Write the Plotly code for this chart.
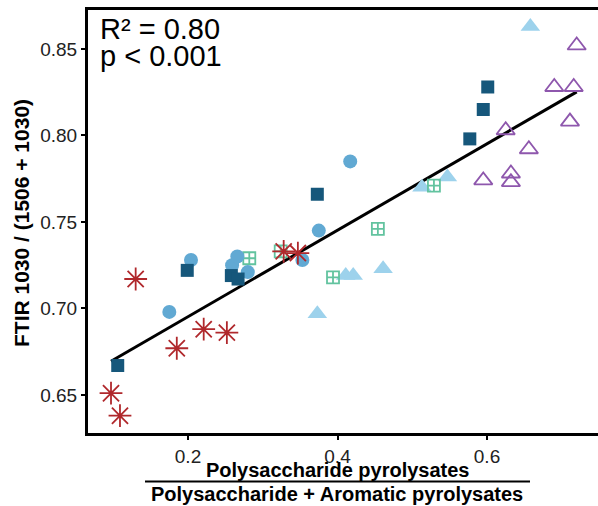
import numpy as np
import plotly.graph_objects as go

# ---- data ----
sq_x = [0.106, 0.199, 0.258, 0.267, 0.373, 0.577, 0.595, 0.601]
sq_y = [0.667, 0.722, 0.719, 0.717, 0.766, 0.798, 0.815, 0.828]

ci_x = [0.175, 0.204, 0.259, 0.266, 0.280, 0.353, 0.375, 0.417]
ci_y = [0.698, 0.728, 0.725, 0.730, 0.721, 0.728, 0.745, 0.785]

as_x = [0.130, 0.097, 0.109, 0.185, 0.221, 0.252, 0.328, 0.347]
as_y = [0.717, 0.651, 0.638, 0.677, 0.688, 0.686, 0.733, 0.732]

gr_x = [0.282, 0.324, 0.394, 0.454, 0.529]
gr_y = [0.729, 0.733, 0.718, 0.746, 0.771]

lt_x = [0.373, 0.411, 0.421, 0.461, 0.513, 0.547, 0.658]
lt_y = [0.697, 0.719, 0.719, 0.723, 0.770, 0.776, 0.863]

pu_x = [0.720, 0.690, 0.716, 0.711, 0.625, 0.656, 0.595, 0.632, 0.632]
pu_y = [0.852, 0.828, 0.828, 0.808, 0.803, 0.792, 0.774, 0.778, 0.773]

x_ticks = [0.2, 0.4, 0.6]
y_ticks = [0.65, 0.70, 0.75, 0.80, 0.85]
stats_lines = ["R² = 0.80", "p < 0.001"]
y_title = "FTIR 1030 / (1506 + 1030)"
x_title_num = "Polysaccharide pyrolysates"
x_title_den = "Polysaccharide + Aromatic pyrolysates"

# ---- regression line computed from the data ----
all_x = np.array(sq_x + ci_x + as_x + gr_x + lt_x + pu_x)
all_y = np.array(sq_y + ci_y + as_y + gr_y + lt_y + pu_y)
slope, intercept = np.polyfit(all_x, all_y, 1)
fit_x = np.array([all_x.min(), all_x.max()])
fit_y = slope * fit_x + intercept

FONT = "Liberation Sans, Arial, sans-serif"

fig = go.Figure()
fig.add_trace(go.Scatter(x=fit_x, y=fit_y, mode="lines",
                         line=dict(color="black", width=3), showlegend=False, hoverinfo="skip"))

def add(x, y, symbol, color, size, lw=0, fill=True):
    marker = dict(symbol=symbol, size=size, color=color)
    if not fill:
        marker["line"] = dict(color=color, width=lw)
    else:
        marker["line"] = dict(width=0)
    fig.add_trace(go.Scatter(x=x, y=y, mode="markers", marker=marker, showlegend=False))

add(lt_x, lt_y, "triangle-up", "#9dd2ec", 17)
add(pu_x, pu_y, "triangle-up-open", "#8e57ad", 16, lw=1.8, fill=False)
add(gr_x, gr_y, "square-cross-open", "#62c39f", 12, lw=1.8, fill=False)
add(ci_x, ci_y, "circle", "#61a9d3", 14)
add(sq_x, sq_y, "square", "#16577b", 13)
add(as_x, as_y, "asterisk-open", "#b0282c", 19, lw=1.8, fill=False)

W, H = 598, 506
# plot box in screen pixels
SL, SR, ST, SB = 88, 598, 10, 433
L, T, R, B = SL, ST, W - SR, H - SB
pw, ph = W - L - R, H - T - B

# x scale: 0.4 at screen px 337.5, 747.5 px per unit
x_lo = 0.4 + (SL - 337.5) / 747.5
x_hi = 0.4 + (SR - 337.5) / 747.5

def px(xs):
    return (xs - SL) / pw

def py(ys):
    return (SB - ys) / ph

annotations = [
    dict(text=stats_lines[0], x=px(98), y=py(29), xref="paper", yref="paper",
         xanchor="left", yanchor="middle", showarrow=False,
         font=dict(family=FONT, size=29, color="black")),
    dict(text=stats_lines[1], x=px(98), y=py(56), xref="paper", yref="paper",
         xanchor="left", yanchor="middle", showarrow=False,
         font=dict(family=FONT, size=29, color="black")),
    dict(text="<b>" + y_title + "</b>", x=px(22), y=py(223), xref="paper", yref="paper",
         xanchor="center", yanchor="middle", textangle=-90, showarrow=False,
         font=dict(family=FONT, size=21, color="black")),
    dict(text="<b>" + x_title_num + "</b>", x=px(337), y=py(470), xref="paper", yref="paper",
         xanchor="center", yanchor="middle", showarrow=False,
         font=dict(family=FONT, size=20, color="black")),
    dict(text="<b>" + x_title_den + "</b>", x=px(337), y=py(494), xref="paper", yref="paper",
         xanchor="center", yanchor="middle", showarrow=False,
         font=dict(family=FONT, size=20, color="black")),
]

shapes = [
    dict(type="line", xref="paper", yref="paper", x0=px(145), x1=px(530),
         y0=py(481.5), y1=py(481.5), line=dict(color="black", width=2)),
]

fig.update_layout(
    width=W, height=H,
    margin=dict(l=L, r=R, t=T, b=B, pad=0),
    paper_bgcolor="white", plot_bgcolor="white",
    annotations=annotations, shapes=shapes,
    xaxis=dict(range=[x_lo, x_hi], tickvals=x_ticks, ticktext=[f"{v:.1f}" for v in x_ticks],
               showgrid=False, zeroline=False, showline=True, linecolor="black", linewidth=3,
               mirror=True, ticks="outside", ticklen=4, tickwidth=1.5, tickcolor="black",
               tickfont=dict(family=FONT, size=19, color="#222222")),
    yaxis=dict(range=[0.628, 0.8725], tickvals=y_ticks, ticktext=[f"{v:.2f}" for v in y_ticks],
               showgrid=False, zeroline=False, showline=True, linecolor="black", linewidth=3,
               mirror=False, ticks="outside", ticklen=4, tickwidth=1.5, tickcolor="black",
               tickfont=dict(family=FONT, size=19, color="#222222")),
)

fig.write_html("out.html", config={"displayModeBar": False},
               post_script="document.body.style.margin='0';document.body.style.overflow='hidden';")
